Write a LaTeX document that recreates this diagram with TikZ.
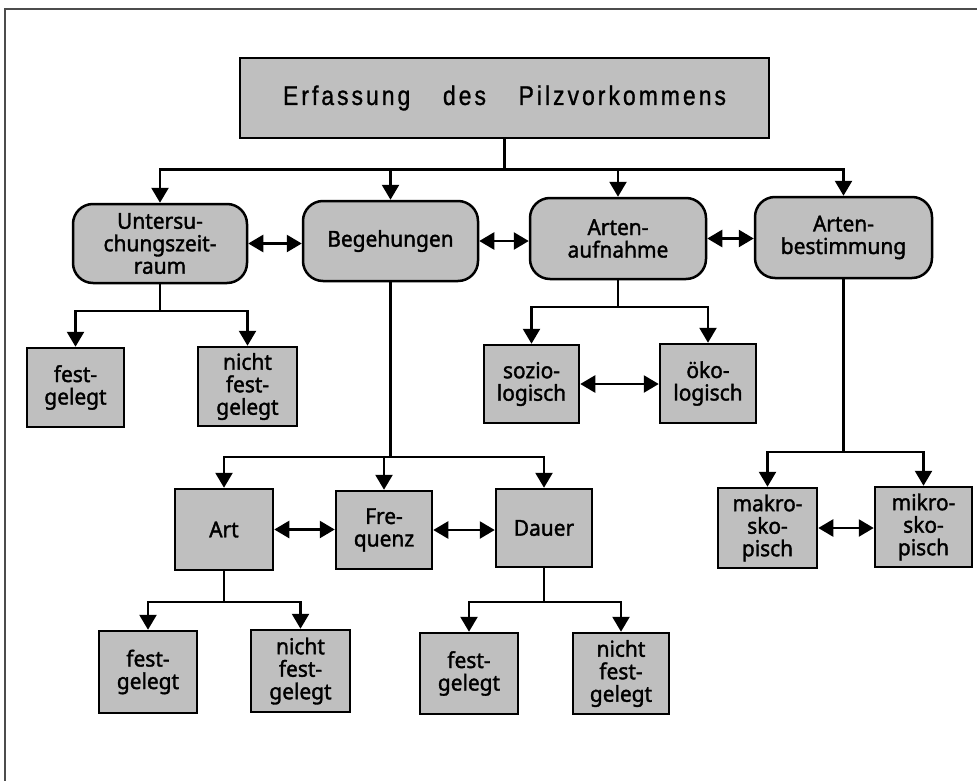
\documentclass[tikz,border=0pt]{standalone}
\usepackage{fontspec}
\setmainfont[FakeBold=1.6,FakeStretch=0.95]{Noto Sans}
\newfontfamily\titlefont[FakeStretch=0.85,FakeBold=1]{Liberation Sans}
\usetikzlibrary{arrows.meta}
\definecolor{boxgray}{rgb}{0.75,0.75,0.75}
\definecolor{framegray}{rgb}{0.3,0.3,0.3}
\makeatletter
\newcommand\spreadword[2]{\@tfor\spch:=#2\do{\spch\kern#1}\unkern}
\makeatother
\begin{document}
\begin{tikzpicture}[x=1pt,y=-1pt,
  boxbase/.style={draw=black,line width=2.5pt,fill=boxgray,align=center,inner sep=0pt,
    font=\fontsize{22}{22.5}\selectfont},
  rbox/.style={boxbase,rounded corners=20pt},
  sbox/.style={boxbase},
  conn/.style={line width=2.5pt,black},
  arr/.style={conn,-{Triangle[length=15pt,width=17pt]}},
  dbl/.style={conn,{Triangle[length=15pt,width=17pt]}-{Triangle[length=15pt,width=17pt]}},
  framel/.style={line width=1.4pt,framegray}]
\useasboundingbox (0,0) rectangle (977,781);
\draw[framel] (5,781) -- (5,9) -- (977,9);

% title
\node[sbox,minimum width=529pt,minimum height=80pt,font=\titlefont\fontsize{27}{28}\selectfont]
  (title) at (504.5,98) {\makebox[443pt][s]{\spreadword{3pt}{Erfassung}\hfill\spreadword{3pt}{des}\hfill\spreadword{3pt}{Pilzvorkommens}}};

% level 1
\node[rbox,minimum width=174pt,minimum height=79pt] (U) at (160,243.5) {Untersu-\\chungszeit-\\raum};
\node[rbox,minimum width=175pt,minimum height=80pt] (B) at (390.5,241) {Begehungen};
\node[rbox,minimum width=176pt,minimum height=81pt] (AA) at (618,238.5) {Arten-\\aufnahme};
\node[rbox,minimum width=177pt,minimum height=81pt] (AB) at (843.5,237.5) {Arten-\\bestimmung};

% level 2
\node[sbox,minimum width=97pt,minimum height=79pt] (F1) at (75.5,387.5) {fest-\\gelegt};
\node[sbox,minimum width=99pt,minimum height=79pt] (N1) at (247.5,386.5) {nicht\\fest-\\gelegt};
\node[sbox,minimum width=95pt,minimum height=78pt] (SO) at (531.5,384) {sozio-\\logisch};
\node[sbox,minimum width=96pt,minimum height=79pt] (OE) at (708,383.5) {öko-\\logisch};

% level 3
\node[sbox,minimum width=98pt,minimum height=81pt] (Art) at (224,529.5) {Art};
\node[sbox,minimum width=96pt,minimum height=78pt] (Fr) at (384,530) {Fre-\\quenz};
\node[sbox,minimum width=96pt,minimum height=78pt] (Da) at (544,528) {Dauer};
\node[sbox,minimum width=99pt,minimum height=80pt] (MA) at (767.5,528) {makro-\\sko-\\pisch};
\node[sbox,minimum width=97pt,minimum height=80pt] (MI) at (923.5,527) {mikro-\\sko-\\pisch};

% level 4
\node[sbox,minimum width=98pt,minimum height=82pt] (F2) at (148,672) {fest-\\gelegt};
\node[sbox,minimum width=99pt,minimum height=82pt] (N2) at (300.5,671) {nicht\\fest-\\gelegt};
\node[sbox,minimum width=98pt,minimum height=81pt] (F3) at (469,673.5) {fest-\\gelegt};
\node[sbox,minimum width=96pt,minimum height=81pt] (N3) at (621,673.5) {nicht\\fest-\\gelegt};

% junctions
\coordinate (j0) at ([yshift=-30pt]title.south);
\coordinate (jU) at (U.south |- 0,311);
\coordinate (jB) at (B.south |- 0,457);
\coordinate (jAA) at (AA.south |- 0,307);
\coordinate (jAB) at (AB.south |- 0,452);
\coordinate (jArt) at (Art.south |- 0,602);
\coordinate (jDa) at (Da.south |- 0,602);

% tree connectors
\draw[conn] (title.south) -- (j0);
\draw[arr] (j0) -| (U.north);
\draw[arr] (j0) -| (B.north);
\draw[arr] (j0) -| (AA.north);
\draw[arr] (j0) -| (AB.north);

\draw[conn] (U.south) -- (jU);
\draw[arr] (jU) -| (F1.north);
\draw[arr] (jU) -| (N1.north);

\draw[conn] (B.south) -- (jB);
\draw[arr] (jB) -| (Art.north);
\draw[arr] (jB) -| (Fr.north);
\draw[arr] (jB) -| (Da.north);

\draw[conn] (AA.south) -- (jAA);
\draw[arr] (jAA) -| (SO.north);
\draw[arr] (jAA) -| (OE.north);

\draw[conn] (AB.south) -- (jAB);
\draw[arr] (jAB) -| (MA.north);
\draw[arr] (jAB) -| (MI.north);

\draw[conn] (Art.south) -- (jArt);
\draw[arr] (jArt) -| (F2.north);
\draw[arr] (jArt) -| (N2.north);

\draw[conn] (Da.south) -- (jDa);
\draw[arr] (jDa) -| (F3.north);
\draw[arr] (jDa) -| (N3.north);

% double arrows
\draw[dbl] (U.east) -- (U.east -| B.west);
\draw[dbl] (B.east) -- (B.east -| AA.west);
\draw[dbl] (AA.east) -- (AA.east -| AB.west);
\draw[dbl] (SO.east) -- (SO.east -| OE.west);
\draw[dbl] (Art.east) -- (Art.east -| Fr.west);
\draw[dbl] (Fr.east) -- (Fr.east -| Da.west);
\draw[dbl] (MA.east) -- (MA.east -| MI.west);
\end{tikzpicture}
\end{document}
